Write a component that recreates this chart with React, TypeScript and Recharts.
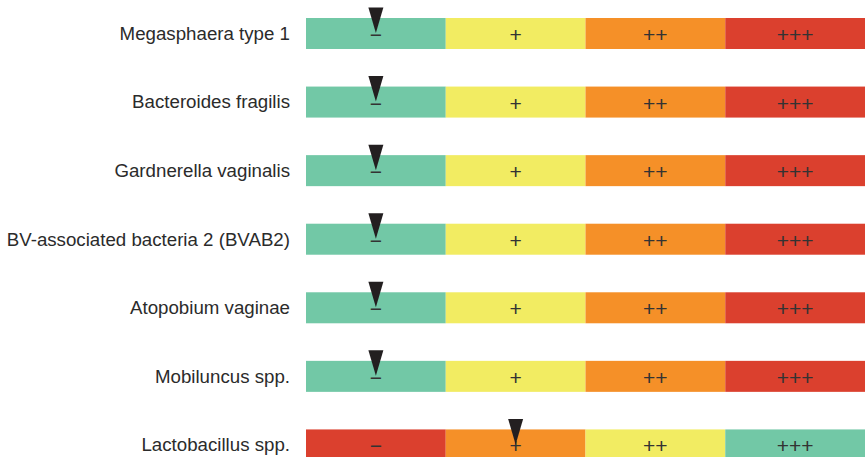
import { BarChart, Bar, XAxis, YAxis } from "recharts";

const species = [
  "Megasphaera type 1",
  "Bacteroides fragilis",
  "Gardnerella vaginalis",
  "BV-associated bacteria 2 (BVAB2)",
  "Atopobium vaginae",
  "Mobiluncus spp.",
  "Lactobacillus spp.",
];
const levelLabels = ["−", "+", "++", "+++"];
// index of the level the marker points at, per row
const markerLevel = [0, 0, 0, 0, 0, 0, 1];
// lactobacilli: more is better, so the scale colours run the other way
const reversedScale = [false, false, false, false, false, false, true];

const scaleColors = ["#72c8a6", "#f2ec62", "#f59028", "#db402e"];
const levelKeys = ["l0", "l1", "l2", "l3"];

const data = species.map((name, i) => ({
  name,
  marker: markerLevel[i],
  reversed: reversedScale[i],
  l0: 1,
  l1: 1,
  l2: 1,
  l3: 1,
}));

const FONT = "'Liberation Sans', Arial, Helvetica, sans-serif";

function makeSegment(level: number) {
  return (props: any) => {
    const { x, y, width, height, payload } = props;
    const colorIdx = payload.reversed ? 3 - level : level;
    const cx = x + width / 2;
    const cy = y + height / 2;
    return (
      <g>
        <rect x={x} y={y} width={width} height={height} fill={scaleColors[colorIdx]} />
        <text
          x={cx}
          y={cy + 1}
          textAnchor="middle"
          dominantBaseline="central"
          fontSize={21}
          fontFamily={FONT}
          fill="#333"
        >
          {levelLabels[level]}
        </text>
        {payload.marker === level && (
          <path
            d={`M${cx - 7.5},${y - 10.5} L${cx + 7.5},${y - 10.5} L${cx},${y + 15} Z`}
            fill="#231f20"
          />
        )}
      </g>
    );
  };
}

function SpeciesTick(props: any) {
  const { x, y, payload } = props;
  return (
    <text
      x={x - 8}
      y={y}
      textAnchor="end"
      dominantBaseline="central"
      fontSize={18.7}
      fontFamily={FONT}
      fill="#2b2b2b"
    >
      {payload.value}
    </text>
  );
}

export default function App() {
  return (
    <div
      style={{
        position: "absolute",
        left: 0,
        top: -1,
        width: 867,
        height: 458,
        overflow: "hidden",
        background: "#fff",
      }}
    >
      <BarChart
        width={867}
        height={480}
        data={data}
        layout="vertical"
        margin={{ top: 0, right: 2, bottom: 0, left: 0 }}
        barSize={31}
      >
        <XAxis type="number" domain={[0, 4]} hide />
        <YAxis
          type="category"
          dataKey="name"
          width={306}
          axisLine={false}
          tickLine={false}
          tick={<SpeciesTick />}
          interval={0}
        />
        {levelKeys.map((k, i) => (
          <Bar
            key={k}
            dataKey={k}
            stackId="scale"
            shape={makeSegment(i)}
            isAnimationActive={false}
          />
        ))}
      </BarChart>
    </div>
  );
}
